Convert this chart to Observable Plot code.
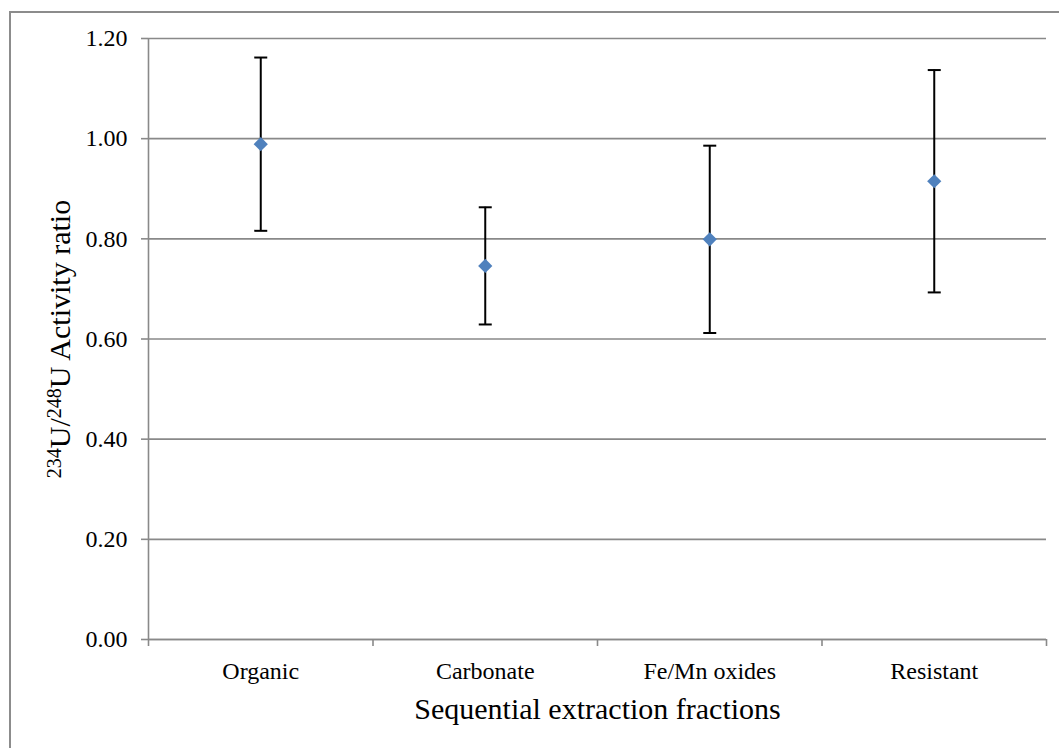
<!DOCTYPE html>
<html><head><meta charset="utf-8">
<script src="https://cdn.jsdelivr.net/npm/d3@7"></script>
<script src="https://cdn.jsdelivr.net/npm/@observablehq/plot@0.6"></script>
<style>
body{margin:0;background:#fff;}
#wrap{position:relative;width:1059px;height:748px;overflow:hidden;background:#fff;}
#wrap svg{position:absolute;left:0;top:0;}
#border{position:absolute;left:9px;top:11px;width:1100px;height:800px;border-left:2px solid #8c8c8c;border-top:2px solid #8c8c8c;pointer-events:none;}
</style></head><body><div id="wrap"><div id="border"></div></div>
<script>
const categories = ["Organic", "Carbonate", "Fe/Mn oxides", "Resistant"];
const ratios = [0.989, 0.746, 0.799, 0.915];
const errors = [0.173, 0.117, 0.187, 0.222];
const yTicks = [0, 0.2, 0.4, 0.6, 0.8, 1.0, 1.2];
const xTitle = "Sequential extraction fractions";
const yTitleParts = [["234", true], ["U/", false], ["248", true], ["U Activity ratio", false]];
const yTitle = yTitleParts.map(d => d[0]).join("");

const rows = categories.map((c, i) => ({
  cat: c, pos: i + 0.5, v: ratios[i], lo: ratios[i] - errors[i], hi: ratios[i] + errors[i]
}));
const boundaries = d3.range(categories.length + 1);
const centers = categories.map((c, i) => i + 0.5);

const capSymbol = {
  draw(ctx, size) { ctx.moveTo(-6.5, 0); ctx.lineTo(6.5, 0); }
};
const grey = "#898989";

const svg = Plot.plot({
  width: 1059,
  height: 748,
  marginLeft: 148,
  marginRight: 13,
  marginTop: 38,
  marginBottom: 109,
  style: {fontFamily: "'Liberation Serif', 'Times New Roman', serif", fontSize: "24px", color: "#000", background: "transparent"},
  x: {type: "linear", domain: [0, categories.length]},
  y: {domain: [0, 1.2]},
  marks: [
    Plot.gridY(yTicks, {stroke: grey, strokeOpacity: 1, strokeWidth: 1.6}),
    Plot.ruleX([0], {stroke: grey, strokeWidth: 1.6}),
    Plot.ruleY([0], {stroke: grey, strokeWidth: 1.6}),
    Plot.axisY(yTicks, {tickSize: 7, tickFormat: () => "", stroke: grey, strokeWidth: 1.6, label: null}),
    Plot.axisY(yTicks, {tickSize: 0, tickPadding: 21, tickFormat: d3.format(".2f"), fill: "#000", fontSize: 24, label: null}),
    Plot.axisX(boundaries, {tickSize: 7, tickFormat: () => "", stroke: grey, strokeWidth: 1.6, label: null}),
    Plot.axisX(centers, {tickSize: 0, tickPadding: 22, tickFormat: d => categories[Math.floor(d)], fill: "#000", fontSize: 24, label: null}),
    Plot.ruleX(rows, {x: "pos", y1: "lo", y2: "hi", stroke: "#000", strokeWidth: 2}),
    Plot.dot(rows, {x: "pos", y: "lo", symbol: capSymbol, stroke: "#000", strokeWidth: 2, fill: "none"}),
    Plot.dot(rows, {x: "pos", y: "hi", symbol: capSymbol, stroke: "#000", strokeWidth: 2, fill: "none"}),
    Plot.dot(rows, {x: "pos", y: "v", symbol: "diamond2", r: 6.4, fill: "#4F81BD", stroke: "none"}),
    Plot.text([xTitle], {frameAnchor: "bottom", text: d => d, dy: 70, fontSize: 30, fill: "#000", lineAnchor: "middle", textAnchor: "middle"}),
    Plot.text([yTitle], {frameAnchor: "left", text: d => d, dx: -88, rotate: -90, fontSize: 30, fill: "#000", lineAnchor: "middle", textAnchor: "middle"})
  ]
});

// Rebuild y title with superscripts
svg.querySelectorAll("text").forEach(t => {
  if (t.textContent === yTitle) {
    t.textContent = "";
    for (const [s, sup] of yTitleParts) {
      const ts = document.createElementNS("http://www.w3.org/2000/svg", "tspan");
      ts.textContent = s;
      if (sup) { ts.setAttribute("font-size", "20"); ts.setAttribute("baseline-shift", "9"); }
      t.appendChild(ts);
    }
  }
});

document.getElementById("wrap").prepend(svg);
</script>
</body></html>
